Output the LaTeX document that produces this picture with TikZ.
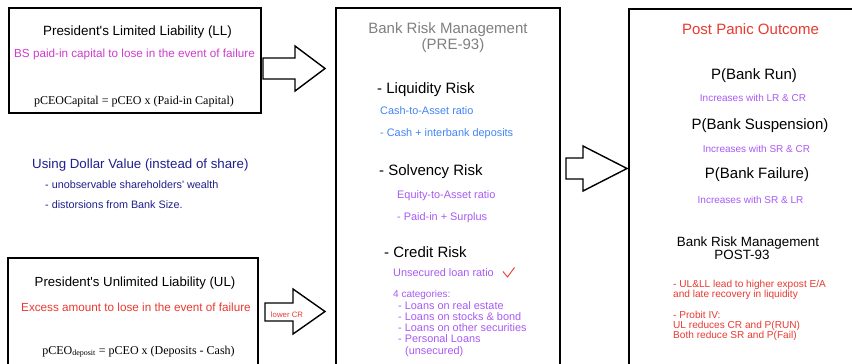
\documentclass[tikz,border=0pt]{standalone}
\usepackage{fontspec}
\setmainfont{Liberation Sans}[Ligatures=TeXOff]
\newfontfamily\formulafont{Liberation Serif}[Ligatures=TeXOff]
\definecolor{llpink}{RGB}{205,60,205}
\definecolor{navytext}{RGB}{30,30,140}
\definecolor{redtext}{RGB}{232,58,48}
\definecolor{graytext}{RGB}{128,128,128}
\definecolor{bluetext}{RGB}{66,133,244}
\definecolor{purpletext}{RGB}{168,90,245}
\newcommand{\fs}[1]{\fontsize{#1}{1.15\dimexpr#1pt\relax}\selectfont}
\tikzset{
  panel/.style={draw=black, line width=1.8pt, fill=white, inner sep=0pt},
  blockarrow/.style={draw=black, line width=1.4pt, fill=white, line join=miter},
  txt/.style={inner sep=0pt, anchor=mid, yshift=-2.5pt},
  ltxt/.style={inner sep=0pt, anchor=mid west, yshift=-2.5pt},
}
\begin{document}
\begin{tikzpicture}[x=1pt,y=-1pt]
\useasboundingbox (0,0) rectangle (852,364);
\clip (0,0) rectangle (852,364);

% panels
\node[panel, minimum width=252pt, minimum height=105pt] (ll) at (135,60.5) {};
\node[panel, minimum width=250pt, minimum height=120pt] (ul) at (133,318) {};
\node[panel, minimum width=224pt, minimum height=370pt] (pre) at (448,193) {};
\node[panel, minimum width=240pt, minimum height=370pt] (post) at (749,194) {};

% block arrows
\draw[blockarrow] (263,58) -- (295,58) -- (295,46) -- (325,68.5) -- (295,91) -- (295,79) -- (263,79) -- cycle;
\draw[blockarrow] (566,158) -- (583,158) -- (583,146) -- (627,168.5) -- (583,191) -- (583,179) -- (566,179) -- cycle;
\draw[blockarrow] (265,303) -- (293,303) -- (293,289) -- (325,311.5) -- (293,334) -- (293,321) -- (265,321) -- cycle;
\node[txt, text=redtext] (lowcr) at (287,312) {\fs{7.8}lower CR};

% limited liability panel
\node[txt] (lltitle) at (137.5,30) {\fs{13.4}President's Limited Liability (LL)};
\node[txt, text=llpink] (lldesc) at (134.5,52) {\fs{11.7}BS paid-in capital to lose in the event of failure};
\node[txt] (llform) at (134,99) {\formulafont\fs{12}pCEOCapital = pCEO x (Paid-in Capital)};

% dollar value remarks
\node[ltxt, text=navytext] (dollar) at (32,163) {\fs{13.3}Using Dollar Value (instead of share)};
\node[ltxt, text=navytext] (unobs) at (45,183) {\fs{10.8}- unobservable shareholders' wealth};
\node[ltxt, text=navytext] (distor) at (45,203) {\fs{10.8}- distorsions from Bank Size.};

% unlimited liability panel
\node[txt] (ultitle) at (135,281) {\fs{13.2}President's Unlimited Liability (UL)};
\node[txt, text=redtext] (uldesc) at (136,306) {\fs{11.7}Excess amount to lose in the event of failure};
\node[txt] (ulform) at (138.5,349) {\formulafont\fs{12}pCEO\textsubscript{deposit} = pCEO x (Deposits - Cash)};

% pre-93 risk management
\node[txt, text=graytext] (pretitle) at (448,28) {\fs{15}Bank Risk Management};
\node[txt, text=graytext] (presub) at (453,44) {\fs{15}(PRE-93)};
\node[ltxt] (liq) at (377,88) {\fs{15}- Liquidity Risk};
\node[ltxt, text=bluetext] (liqa) at (380,109) {\fs{10.9}Cash-to-Asset ratio};
\node[ltxt, text=bluetext] (liqb) at (380,131) {\fs{10.9}- Cash + interbank deposits};
\node[ltxt] (solv) at (379,170) {\fs{15}- Solvency Risk};
\node[ltxt, text=purpletext] (solva) at (397,193) {\fs{10.9}Equity-to-Asset ratio};
\node[ltxt, text=purpletext] (solvb) at (397,215) {\fs{10.9}- Paid-in + Surplus};
\node[ltxt] (cred) at (384,252) {\fs{15}- Credit Risk};
\node[ltxt, text=purpletext] (creda) at (393,271) {\fs{10.9}Unsecured loan ratio};
\draw[redtext, line width=0.9pt, line join=miter] (503,271.5) -- (507.5,277) -- (514.5,267.5);
\node[ltxt, text=purpletext] (cats) at (393,292) {\fs{10}4 categories:};
\node[ltxt, text=purpletext] (catone) at (398,304) {\fs{10.9}- Loans on real estate};
\node[ltxt, text=purpletext] (cattwo) at (398,315) {\fs{10.9}- Loans on stocks \& bond};
\node[ltxt, text=purpletext] (catthree) at (398,326) {\fs{10.9}- Loans on other securities};
\node[ltxt, text=purpletext] (catfour) at (398,337) {\fs{10.9}- Personal Loans};
\node[ltxt, text=purpletext] (catfourb) at (405,349) {\fs{10.9}(unsecured)};

% post panic outcome
\node[txt, text=redtext] (posttitle) at (750.5,29) {\fs{15}Post Panic Outcome};
\node[txt] (prun) at (754,74) {\fs{15}P(Bank Run)};
\node[txt, text=purpletext] (prunn) at (753,96) {\fs{10}Increases with LR \& CR};
\node[txt] (psusp) at (760,124) {\fs{15}P(Bank Suspension)};
\node[txt, text=purpletext] (psuspn) at (756.5,147) {\fs{10}Increases with SR \& CR};
\node[txt] (pfail) at (757,173) {\fs{15}P(Bank Failure)};
\node[txt, text=purpletext] (pfailn) at (750.5,198) {\fs{10}Increases with SR \& LR};
\node[txt] (posttwo) at (748,241) {\fs{13.4}Bank Risk Management};
\node[txt] (posttwob) at (742,254) {\fs{13.4}POST-93};
\node[ltxt, text=redtext] (resa) at (673,282) {\fs{10.1}- UL\&LL lead to higher expost E/A};
\node[ltxt, text=redtext] (resb) at (673,292) {\fs{10.1}and late recovery in liquidity};
\node[ltxt, text=redtext] (resc) at (673,313) {\fs{10.1}- Probit IV:};
\node[ltxt, text=redtext] (resd) at (673,323) {\fs{10.1}UL reduces CR and P(RUN)};
\node[ltxt, text=redtext] (rese) at (673,333) {\fs{10.1}Both reduce SR and P(Fail)};
\end{tikzpicture}
\end{document}
